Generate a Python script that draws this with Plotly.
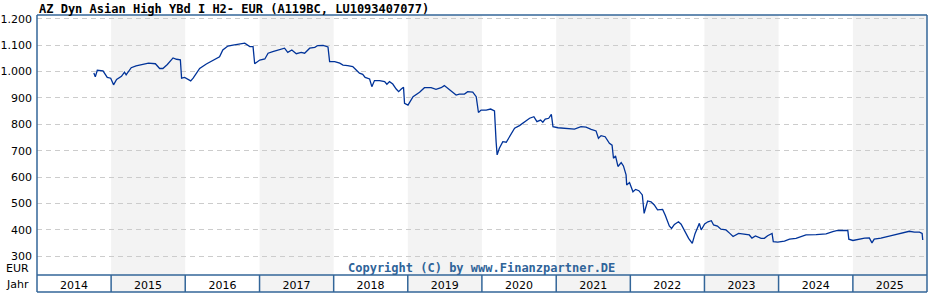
import plotly.graph_objects as go

# ---- data ----
dates = [
    "2014-10-08", "2014-10-15", "2014-10-25", "2014-11-22", "2014-12-13", "2014-12-30",
    "2015-01-13", "2015-01-28", "2015-02-21", "2015-03-08", "2015-03-16", "2015-04-10",
    "2015-05-04", "2015-05-20", "2015-06-14", "2015-07-04", "2015-08-07", "2015-08-28",
    "2015-09-13", "2015-10-05", "2015-11-02", "2015-11-19", "2015-12-08", "2015-12-14",
    "2015-12-29", "2016-01-28", "2016-02-09", "2016-03-12", "2016-04-14", "2016-05-08",
    "2016-06-02", "2016-06-18", "2016-07-04", "2016-07-29", "2016-08-23", "2016-09-25",
    "2016-10-20", "2016-11-14", "2016-11-30", "2016-12-08", "2017-01-02", "2017-01-27",
    "2017-02-12", "2017-03-07", "2017-04-01", "2017-05-04", "2017-05-20", "2017-06-09",
    "2017-07-01", "2017-07-25", "2017-08-11", "2017-09-05", "2017-09-30", "2017-10-15",
    "2017-11-10", "2017-12-04", "2017-12-12", "2018-01-06", "2018-01-31", "2018-02-16",
    "2018-03-11", "2018-04-05", "2018-04-22", "2018-05-08", "2018-05-24", "2018-06-05",
    "2018-06-27", "2018-07-08", "2018-07-21", "2018-08-15", "2018-09-09", "2018-09-20",
    "2018-10-03", "2018-10-19", "2018-11-05", "2018-11-17", "2018-11-30", "2018-12-11",
    "2018-12-16", "2019-01-02", "2019-01-27", "2019-02-28", "2019-03-24", "2019-04-26",
    "2019-05-20", "2019-06-14", "2019-06-30", "2019-07-16", "2019-08-10", "2019-08-27",
    "2019-09-12", "2019-10-07", "2019-10-23", "2019-11-17", "2019-12-04", "2019-12-15",
    "2019-12-28", "2020-01-22", "2020-02-13", "2020-03-03", "2020-03-11", "2020-03-16",
    "2020-03-27", "2020-04-13", "2020-04-30", "2020-05-21", "2020-06-10", "2020-07-04",
    "2020-07-29", "2020-08-23", "2020-09-13", "2020-09-28", "2020-10-16", "2020-10-27",
    "2020-11-08", "2020-11-25", "2020-12-08", "2020-12-16", "2021-01-10", "2021-02-04",
    "2021-02-28", "2021-04-01", "2021-05-03", "2021-05-28", "2021-06-22", "2021-07-16",
    "2021-07-28", "2021-08-10", "2021-08-30", "2021-09-12", "2021-09-20", "2021-10-03",
    "2021-10-10", "2021-10-20", "2021-11-01", "2021-11-17", "2021-11-28", "2021-12-11",
    "2021-12-14", "2021-12-28", "2022-01-14", "2022-01-27", "2022-02-12", "2022-03-01",
    "2022-03-10", "2022-03-27", "2022-04-13", "2022-04-29", "2022-05-15", "2022-06-09",
    "2022-06-22", "2022-07-12", "2022-07-23", "2022-08-06", "2022-08-26", "2022-09-08",
    "2022-09-30", "2022-10-15", "2022-11-02", "2022-11-16", "2022-11-29", "2022-12-07",
    "2022-12-16", "2023-01-02", "2023-01-18", "2023-02-04", "2023-02-15", "2023-03-06",
    "2023-03-23", "2023-04-17", "2023-05-06", "2023-05-22", "2023-06-18", "2023-07-16",
    "2023-08-10", "2023-08-23", "2023-09-09", "2023-10-07", "2023-10-23", "2023-11-08",
    "2023-11-30", "2023-12-06", "2023-12-28", "2024-01-30", "2024-02-24", "2024-03-27",
    "2024-04-21", "2024-05-15", "2024-07-04", "2024-08-22", "2024-09-24", "2024-10-18",
    "2024-12-07", "2024-12-12", "2025-01-01", "2025-01-26", "2025-02-28", "2025-03-23",
    "2025-04-05", "2025-04-16", "2025-05-19", "2025-06-29", "2025-08-09", "2025-09-12",
    "2025-10-06", "2025-10-31", "2025-11-25", "2025-12-08", "2025-12-11",
]
prices = [
    995, 980, 1005, 1003, 978, 975,
    950, 970, 982, 998, 988, 1015,
    1022, 1025, 1027, 1032, 1030, 1012,
    1012, 1027, 1052, 1047, 1045, 975,
    978, 965, 975, 1012, 1029, 1038,
    1048, 1056, 1082, 1097, 1101, 1105,
    1108, 1095, 1095, 1030, 1044, 1048,
    1070, 1076, 1082, 1089, 1073, 1082,
    1068, 1073, 1070, 1089, 1092, 1099,
    1100, 1094, 1038, 1038, 1032, 1025,
    1023, 1019, 1006, 994, 990, 978,
    972, 943, 966, 966, 962, 952,
    962, 953, 934, 924, 934, 941,
    880, 873, 905, 922, 939, 939,
    933, 939, 947, 937, 918, 911,
    915, 915, 924, 922, 905, 845,
    854, 854, 858, 851, 734, 684,
    709, 734, 732, 760, 785, 795,
    810, 823, 829, 810, 816, 808,
    820, 823, 838, 791, 787, 785,
    785, 782, 791, 789, 781, 775,
    747, 757, 753, 734, 728, 721,
    671, 680, 640, 655, 642, 608,
    570, 579, 544, 553, 548, 532,
    462, 509, 506, 494, 475, 477,
    455, 414, 405, 420, 430, 421,
    388, 367, 348, 386, 409, 424,
    399, 422, 430, 434, 418, 414,
    402, 399, 386, 374, 386, 384,
    380, 368, 376, 367, 367, 377,
    386, 355, 353, 357, 364, 367,
    374, 380, 381, 384, 393, 397,
    397, 364, 359, 364, 368, 369,
    350, 364, 368, 376, 384, 389,
    394, 391, 391, 386, 361,
]
years = [2014, 2015, 2016, 2017, 2018, 2019, 2020, 2021, 2022, 2023, 2024, 2025]
y_ticks = [300, 400, 500, 600, 700, 800, 900, 1000, 1100, 1200]

title_text = "AZ Dyn Asian High YBd I H2- EUR (A119BC, LU1093407077)"
copyright_text = "Copyright (C) by www.Finanzpartner.DE"

# ---- styles ----
W, H = 928, 300
ML, MR, MT, MB = 37, 1, 15, 25
plot_h = H - MT - MB
bar_px = 17
bar_y = -bar_px / plot_h
border_col = "#336699"
shade_col = "#f3f3f3"
line_col = "#003399"
mono = "DejaVu Sans Mono"
sans = "DejaVu Sans"

fig = go.Figure()
fig.add_trace(go.Scatter(
    x=dates, y=prices, mode="lines",
    line=dict(color=line_col, width=1.3),
    hoverinfo="skip", showlegend=False,
))

shapes = []
# alternate-year shading (plot area + year bar)
for i, yr in enumerate(years):
    if i % 2 == 1:
        shapes.append(dict(type="rect", xref="x", yref="paper",
                           x0=f"{yr}-01-01", x1=f"{yr + 1}-01-01",
                           y0=bar_y, y1=1, fillcolor=shade_col,
                           line=dict(width=0), layer="below"))
# year dividers in bar
for yr in years[1:]:
    shapes.append(dict(type="line", xref="x", yref="paper",
                       x0=f"{yr}-01-01", x1=f"{yr}-01-01", y0=bar_y, y1=0,
                       line=dict(color=border_col, width=1.5), layer="above"))
# borders
for (x0, x1, y0, y1) in [(0, 0, bar_y, 1), (1, 1, bar_y, 1), (0, 1, 1, 1),
                         (0, 1, 0, 0), (0, 1, bar_y, bar_y)]:
    shapes.append(dict(type="line", xref="paper", yref="paper",
                       x0=x0, x1=x1, y0=y0, y1=y1,
                       line=dict(color=border_col, width=1.5), layer="above"))

annotations = [
    dict(text=f"<b>{title_text}</b>", xref="paper", yref="paper",
         x=0, y=1 + 15 / plot_h, xanchor="left", yanchor="top",
         showarrow=False, font=dict(family=mono, size=12, color="#000000")),
    dict(text=f"<b>{copyright_text}</b>", xref="paper", yref="paper",
         x=(481 - ML) / (W - ML - MR), y=(275 - 268) / plot_h,
         xanchor="center", yanchor="middle", showarrow=False,
         font=dict(family=mono, size=12, color="#2f6499")),
    dict(text="EUR", xref="paper", yref="paper",
         x=(31 - ML) / (W - ML - MR), y=(275 - 268.5) / plot_h,
         xanchor="right", yanchor="middle", showarrow=False,
         font=dict(family=sans, size=11, color="#000000")),
    dict(text="Jahr", xref="paper", yref="paper",
         x=(31 - ML) / (W - ML - MR), y=(275 - 284) / plot_h,
         xanchor="right", yanchor="middle", showarrow=False,
         font=dict(family=sans, size=11, color="#000000")),
]

fig.update_layout(
    width=W, height=H,
    margin=dict(l=ML, r=MR, t=MT, b=MB, pad=0),
    paper_bgcolor="white", plot_bgcolor="white",
    separators=",.",
    shapes=shapes, annotations=annotations,
    xaxis=dict(
        type="date", range=["2014-01-01", "2026-01-01"],
        tickvals=[f"{y}-07-02" for y in years], ticktext=[str(y) for y in years],
        ticks="", showgrid=False, zeroline=False, showline=False,
        tickfont=dict(family=sans, size=11, color="#000000"),
        ticklabelstandoff=2,
    ),
    yaxis=dict(
        range=[228, 1215], tickvals=y_ticks, tickformat=",d",
        ticks="", showgrid=True, gridcolor="#cccccc", griddash="5px,4px",
        gridwidth=1, zeroline=False, showline=False,
        tickfont=dict(family=sans, size=11, color="#000000"),
        ticklabelstandoff=4,
    ),
)

fig.write_html("out.html")
